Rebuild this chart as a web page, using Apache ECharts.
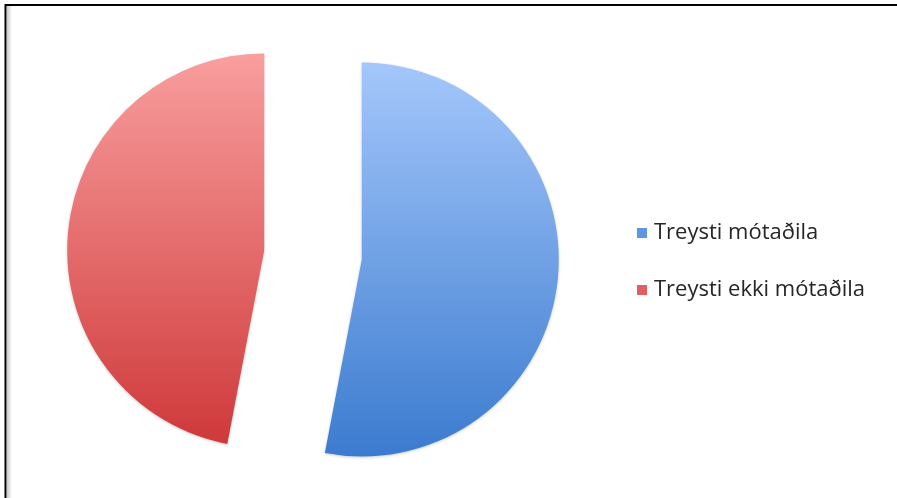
<!DOCTYPE html>
<html>
<head>
<meta charset="utf-8">
<style>
  html, body { margin: 0; padding: 0; background: #ffffff; }
  #chart { width: 897px; height: 498px; }
</style>
<script src="https://cdn.jsdelivr.net/npm/echarts@6/dist/echarts.min.js"></script>
</head>
<body>
<div id="chart"></div>
<script>
// Survey answers: share who trust / do not trust their counterparty
const categories = ['Treysti mótaðila', 'Treysti ekki mótaðila'];
const values = [53, 47];
const topColors = ['#a4c7fb', '#f99e9e'];
const bottomColors = ['#3b7bcf', '#cf393a'];
const legendColors = ['#5f96e2', '#e0605f'];

const chart = echarts.init(document.getElementById('chart'), null, { renderer: 'canvas' });

const pieData = categories.map((name, i) => ({
  name: name,
  value: values[i],
  selected: true,
  itemStyle: {
    color: new echarts.graphic.LinearGradient(0, 0, 0, 1, [
      { offset: 0, color: topColors[i] },
      { offset: 1, color: bottomColors[i] }
    ])
  }
}));

chart.setOption({
  animation: false,
  backgroundColor: '#ffffff',
  graphic: [
    {
      type: 'rect',
      shape: { x: 7, y: 6, width: 5, height: 500 },
      style: {
        fill: new echarts.graphic.LinearGradient(0, 0, 1, 0, [
          { offset: 0, color: '#c8c8c8' },
          { offset: 1, color: '#ffffff' }
        ])
      },
      silent: true
    },
    {
      type: 'rect',
      shape: { x: 5.5, y: 5, width: 900, height: 500 },
      style: { fill: 'none', stroke: '#000000', lineWidth: 2 },
      silent: true
    }
  ],
  legend: {
    orient: 'vertical',
    left: 632,
    top: 216,
    itemWidth: 10,
    itemHeight: 10,
    itemGap: 33,
    icon: 'rect',
    selectedMode: false,
    textStyle: {
      fontFamily: 'Open Sans',
      fontSize: 22,
      lineHeight: 24,
      color: '#262626',
      padding: [0, 0, 0, 2]
    },
    data: categories.map((name, i) => ({ name: name, itemStyle: { color: legendColors[i] } }))
  },
  series: [
    {
      type: 'pie',
      center: [313, 255],
      radius: 197,
      startAngle: 90,
      clockwise: true,
      selectedMode: 'multiple',
      selectedOffset: 49,
      label: { show: false },
      labelLine: { show: false },
      emphasis: { disabled: true },
      itemStyle: {
        shadowBlur: 3,
        shadowColor: 'rgba(0,0,0,0.2)',
        shadowOffsetY: 1
      },
      data: pieData
    }
  ]
});
</script>
</body>
</html>
